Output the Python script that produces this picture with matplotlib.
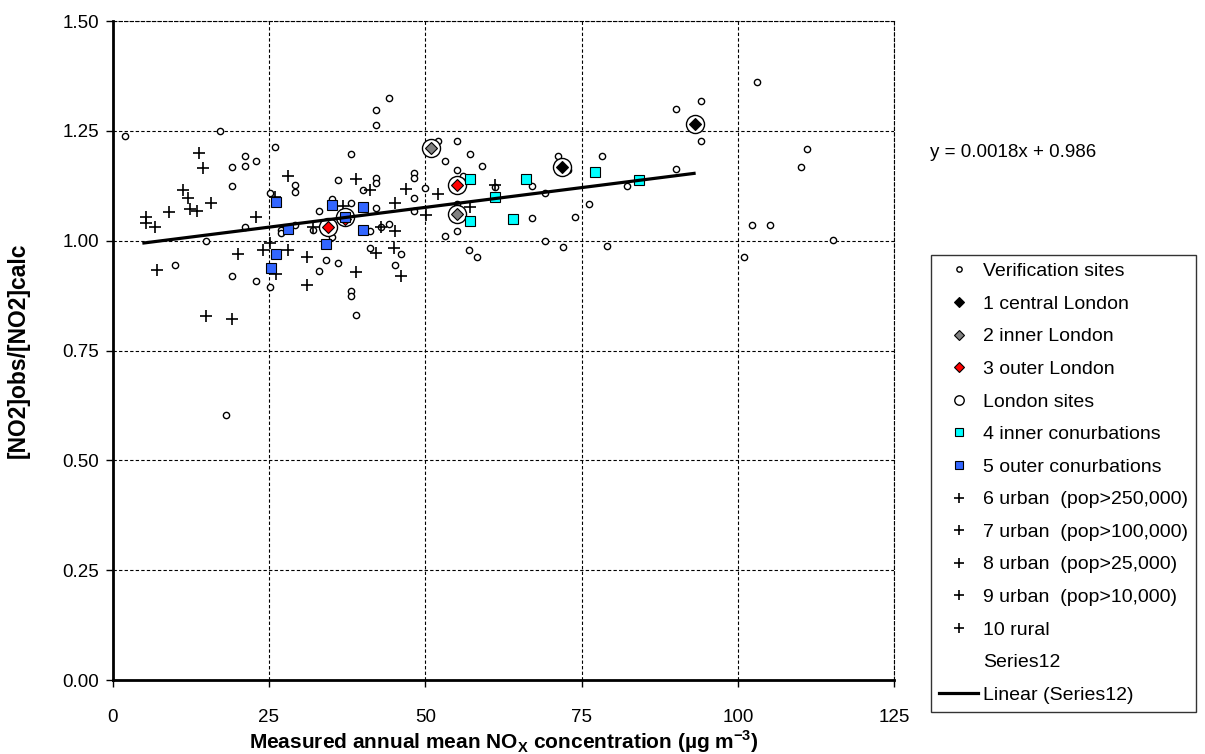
import matplotlib
matplotlib.use('Agg')
import matplotlib.pyplot as plt
import numpy as np

plt.rcParams['font.family'] = ['Liberation Sans', 'DejaVu Sans']
plt.rcParams['mathtext.fontset'] = 'custom'
plt.rcParams['mathtext.rm'] = 'Liberation Sans'
plt.rcParams['mathtext.bf'] = 'Liberation Sans:bold'

# verification sites (small open circles)
ver_x = [2.0, 17.2, 21.1, 21.1, 23.0, 19.1, 19.1, 26.0, 29.1, 29.1, 38.1, 36.0, 21.1, 15.0, 25.1,
         26.9, 26.9, 29.1, 33.0, 35.1, 38.1, 32.0, 35.1, 10.0, 34.2, 36.0, 33.0, 19.1, 23.0, 25.1,
         38.1, 38.1, 39.0, 18.1,
         44.2, 42.1, 42.1, 52.1, 55.1, 57.1, 53.1, 59.1, 48.2, 48.2, 55.1, 56.1, 42.1, 42.1, 40.0,
         50.0, 48.2, 42.1, 48.2, 55.1, 55.1, 61.2, 67.0, 67.0, 69.1, 71.2, 69.1, 72.1, 41.2, 43.0,
         44.2, 53.1, 55.1, 41.2, 46.1, 45.1, 57.0, 58.2,
         103.1, 94.1, 90.1, 94.1, 111.0, 110.1, 90.1, 78.2, 82.2, 76.2, 74.0, 79.1, 102.2, 105.2,
         115.2, 101.0, 72.9]
ver_y = [1.239, 1.250, 1.193, 1.170, 1.181, 1.167, 1.125, 1.213, 1.127, 1.112, 1.197, 1.138, 1.032, 0.999, 1.108,
         1.024, 1.017, 1.036, 1.068, 1.094, 1.085, 1.024, 1.009, 0.946, 0.957, 0.950, 0.931, 0.920, 0.908, 0.894,
         0.886, 0.875, 0.831, 0.604,
         1.326, 1.298, 1.263, 1.226, 1.226, 1.197, 1.181, 1.170, 1.155, 1.144, 1.161, 1.147, 1.143, 1.131, 1.115,
         1.121, 1.098, 1.075, 1.068, 1.083, 1.075, 1.123, 1.125, 1.052, 1.108, 1.193, 0.999, 0.986, 1.022, 1.032,
         1.038, 1.012, 1.023, 0.983, 0.969, 0.946, 0.979, 0.962,
         1.361, 1.319, 1.299, 1.226, 1.210, 1.167, 1.164, 1.194, 1.125, 1.084, 1.055, 0.989, 1.035, 1.035,
         1.002, 0.963, 1.162]

central_x = [71.9, 93.1]
central_y = [1.168, 1.265]
inner_ldn_x = [51.0, 55.0]
inner_ldn_y = [1.212, 1.060]
outer_ldn_x = [34.4, 37.1, 55.0]
outer_ldn_y = [1.031, 1.050, 1.126]
london_x = [34.4, 37.1, 51.0, 55.0, 55.0, 71.9, 93.1]
london_y = [1.031, 1.053, 1.212, 1.126, 1.060, 1.168, 1.265]

inner_conurb_x = [57.2, 57.2, 61.1, 64.1, 66.1, 77.2, 84.2]
inner_conurb_y = [1.140, 1.046, 1.100, 1.050, 1.140, 1.157, 1.138]
outer_conurb_x = [26.2, 28.0, 35.1, 37.1, 34.1, 26.1, 25.4, 40.1, 40.1]
outer_conurb_y = [1.089, 1.027, 1.081, 1.055, 0.992, 0.970, 0.937, 1.077, 1.024]

urban_x = [13.8, 14.4, 28.0, 39.0, 11.2, 12.0, 12.4, 13.5, 15.8, 9.0, 5.3, 5.3, 6.7, 23.0, 26.0,
           36.9, 32.0, 25.2, 24.1, 28.1, 20.0, 31.1, 26.1, 7.1, 39.0, 31.1, 15.0, 19.1, 41.2, 47.0,
           52.0, 45.1, 50.1, 57.1, 61.1, 43.0, 45.2, 42.1, 45.0, 46.1]
urban_y = [1.200, 1.166, 1.148, 1.141, 1.115, 1.098, 1.073, 1.068, 1.085, 1.065, 1.053, 1.041, 1.032, 1.053, 1.099,
           1.079, 1.032, 0.996, 0.979, 0.980, 0.970, 0.964, 0.924, 0.933, 0.928, 0.899, 0.829, 0.822, 1.115, 1.117,
           1.106, 1.087, 1.059, 1.077, 1.128, 1.032, 1.023, 0.973, 0.983, 0.919]

slope = 0.0018
intercept = 0.986
fit_x = np.array([5, 93])

fig = plt.figure(figsize=(12.05, 7.54), dpi=100)
ax = fig.add_axes([0.0935, 0.098, 0.6485, 0.874])

ax.plot(ver_x, ver_y, 'o', ms=4.5, mfc='white', mec='black', mew=1.0, label='Verification sites', zorder=3)
ax.plot(london_x, london_y, 'o', ms=13, mfc='white', mec='black', mew=1.0, zorder=4)
ax.plot(central_x, central_y, 'D', ms=6.5, mfc='black', mec='black', mew=0.8, label='1 central London', zorder=5)
ax.plot(inner_ldn_x, inner_ldn_y, 'D', ms=6.5, mfc='#808080', mec='black', mew=0.8, label='2 inner London', zorder=5)
ax.plot(outer_ldn_x, outer_ldn_y, 'D', ms=6.5, mfc='#ff0000', mec='black', mew=0.8, label='3 outer London', zorder=5)
ax.plot([], [], 'o', ms=8, mfc='white', mec='black', mew=1.0, label='London sites')
ax.plot(inner_conurb_x, inner_conurb_y, 's', ms=7, mfc='#00ffff', mec='black', mew=0.8, label='4 inner conurbations', zorder=5)
ax.plot(outer_conurb_x, outer_conurb_y, 's', ms=7, mfc='#3366ff', mec='black', mew=0.8, label='5 outer conurbations', zorder=5)
ax.plot(urban_x, urban_y, '+', ms=8, mec='black', mew=1.2, label='6 urban  (pop>250,000)', zorder=3)
ax.plot([], [], '+', ms=8, mec='black', mew=1.2, label='7 urban  (pop>100,000)')
ax.plot([], [], '+', ms=8, mec='black', mew=1.2, label='8 urban  (pop>25,000)')
ax.plot([], [], '+', ms=8, mec='black', mew=1.2, label='9 urban  (pop>10,000)')
ax.plot([], [], '+', ms=8, mec='black', mew=1.2, label='10 rural')
ax.plot([], [], ' ', label='Series12')
ax.plot(fit_x, slope * fit_x + intercept, '-', color='black', lw=2.3, label='Linear (Series12)', zorder=6)

ax.set_xlim(0, 125)
ax.set_ylim(0, 1.5)
ax.set_xticks(np.arange(0, 126, 25))
ax.set_yticks(np.arange(0, 1.51, 0.25))
ax.set_yticklabels(['%.2f' % v for v in np.arange(0, 1.51, 0.25)])
ax.grid(True, color='black', linestyle=(0, (3, 2)), linewidth=0.8)
ax.tick_params(labelsize=13.5, direction='out', length=5, width=1)
ax.tick_params(axis='x', pad=16)
ax.tick_params(axis='y', pad=5)
for s in ['top', 'right']:
    ax.spines[s].set_linestyle((0, (3, 2)))
    ax.spines[s].set_linewidth(0.8)
ax.spines['left'].set_linewidth(2)
ax.spines['bottom'].set_linewidth(2)

ax.set_xlabel(r'Measured annual mean NO$_{\mathbf{X}}$ concentration (µg m$^{\mathbf{-3}}$)',
              fontsize=15, fontweight='bold')
ax.xaxis.set_label_coords(0.5, -0.074)
ax.set_ylabel('[NO2]obs/[NO2]calc', fontsize=16.5, fontweight='bold')
ax.yaxis.set_label_coords(-0.121, 0.5)
ax.yaxis.label.set_va('center')

fig.text(0.772, 0.798, 'y = 0.0018x + 0.986', fontsize=13.5, va='center', ha='left')

leg = fig.legend(loc='upper left', bbox_to_anchor=(0.773, 0.662), fontsize=14,
                 frameon=True, fancybox=False, edgecolor='black', labelspacing=0.77,
                 handlelength=2.0, handletextpad=0.25, borderaxespad=0, borderpad=0.4,
                 markerscale=0.85)
leg.get_frame().set_linewidth(1)

fig.savefig('out.png', dpi=100)
